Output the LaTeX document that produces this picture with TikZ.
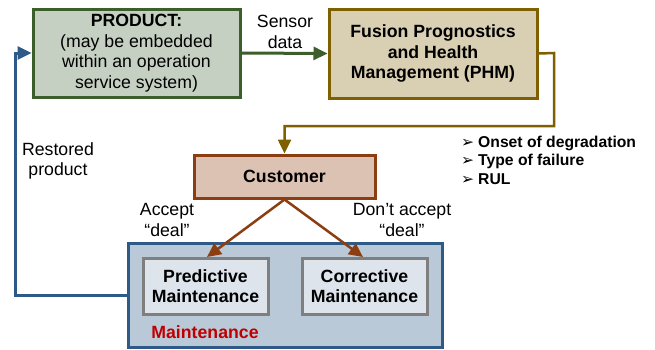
\documentclass[tikz,border=0pt]{standalone}
\usepackage{fontspec}
\setmainfont{Liberation Sans}
\newfontfamily\symfont{DejaVu Sans}
\usetikzlibrary{arrows.meta}
\definecolor{prodfill}{HTML}{C5D0C2}
\definecolor{prodline}{HTML}{3B5E2B}
\definecolor{phmfill}{HTML}{D9CFB2}
\definecolor{phmline}{HTML}{7F6000}
\definecolor{custfill}{HTML}{DCC2B2}
\definecolor{custline}{HTML}{8B3E12}
\definecolor{maintfill}{HTML}{B9C9D7}
\definecolor{maintline}{HTML}{2E5A88}
\definecolor{subfill}{HTML}{DDE4EB}
\definecolor{subline}{HTML}{7F7F7F}
\definecolor{maintred}{HTML}{C00000}
\tikzset{
  box/.style={draw, line width=3pt, inner sep=0pt, align=center,
    font=\fontsize{17.7}{20.5}\selectfont},
  lbl/.style={align=center, inner sep=0pt, font=\fontsize{17.7}{20.5}\selectfont},
  conn/.style={line width=3pt, -{Triangle[length=14pt 0 0,width=13pt 0 0]}},
}
\newcommand{\bulmark}{{\symfont\bfseries\fontsize{15.5}{18.5}\selectfont ➢}\hspace{4pt}}
\begin{document}
\begin{tikzpicture}[x=1pt,y=-1pt]
\useasboundingbox (0,0) rectangle (655,349);

% main blocks
\node[box, fill=prodfill, draw=prodline, minimum width=207pt, minimum height=88pt]
  (product) at (136.5,53) {\textbf{PRODUCT:}\\(may be embedded\\within an operation\\service system)};
\node[box, fill=phmfill, draw=phmline, minimum width=208pt, minimum height=89pt]
  (phm) at (433,53.5) {\textbf{Fusion Prognostics}\\\textbf{and Health}\\\textbf{Management (PHM)}};
\node[box, fill=custfill, draw=custline, minimum width=181pt, minimum height=43pt]
  (customer) at (284.5,176.5) {\textbf{Customer}};
\node[box, fill=maintfill, draw=maintline, minimum width=314pt, minimum height=104pt]
  (maint) at (285,295) {};
\node[box, fill=subfill, draw=subline, minimum width=125pt, minimum height=56pt]
  (pred) at (205.5,286) {\textbf{Predictive}\\\textbf{Maintenance}};
\node[box, fill=subfill, draw=subline, minimum width=125pt, minimum height=56pt]
  (corr) at (364.5,286) {\textbf{Corrective}\\\textbf{Maintenance}};
\node[lbl, text=maintred] (mtitle) at (205,332) {\textbf{Maintenance}};

% connectors
\coordinate (phmR) at (554,53);
\coordinate (phmD) at (554,126);
\coordinate (blueB) at (15,295);
\coordinate (blueT) at (15,53);
\draw[conn, draw=prodline] (product.east) -- (phm.west);
\draw[conn, draw=phmline, line width=2.5pt]
  (phm.east) -- (phmR) -- (phmD) -- (customer.north |- phmD) -- (customer.north);
\draw[conn, draw=custline, line width=2.5pt] (customer.south) -- (207,257);
\draw[conn, draw=custline, line width=2.5pt] (customer.south) -- (363,257);
\draw[conn, draw=maintline]
  (maint.west |- blueB) -- (blueB) -- (blueT) -- (product.west);

% labels
\node[lbl] (sensor) at (285,32) {Sensor\\data};
\node[lbl] (restored) at (58,161) {Restored\\product};
\node[lbl] (accept) at (167,220) {Accept\\“deal”};
\node[lbl] (reject) at (402,220) {Don’t accept\\“deal”};
\node[anchor=west, inner sep=0pt, align=left, font=\fontsize{15.7}{18.5}\selectfont]
  (outputs) at (461,160)
  {\bulmark\textbf{Onset of degradation}\\
   \bulmark\textbf{Type of failure}\\
   \bulmark\textbf{RUL}};
\end{tikzpicture}
\end{document}
